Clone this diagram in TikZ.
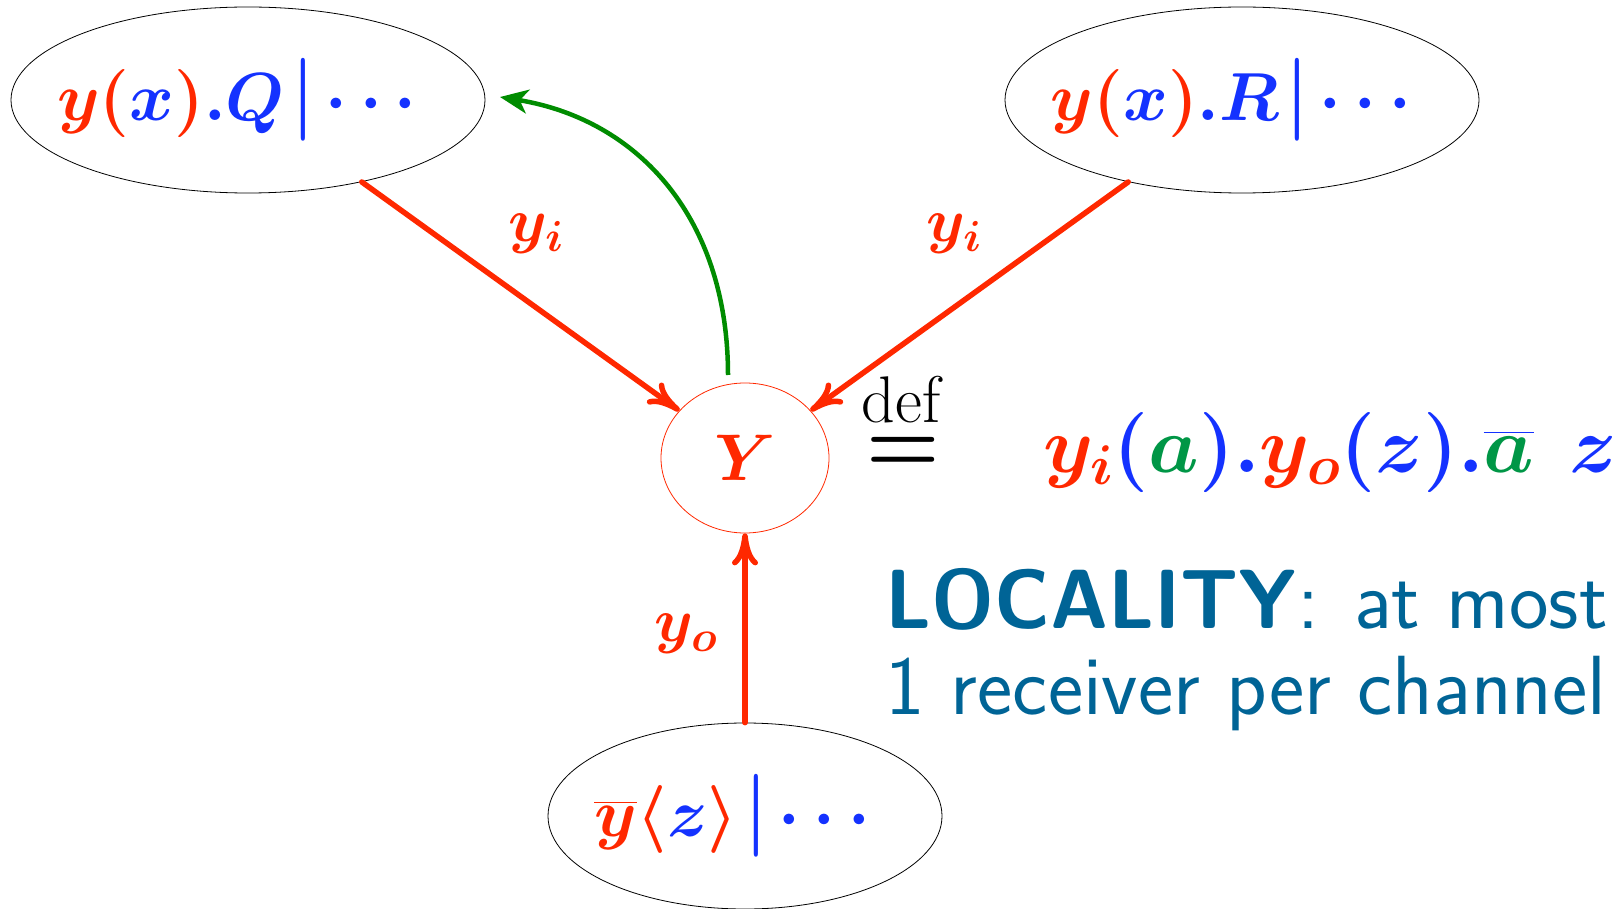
\RequirePackage{fix-cm}
\documentclass[tikz,border=0pt]{standalone}
\usepackage{amsmath,bm,graphicx}
\usepackage{fontspec}
\usetikzlibrary{shapes.geometric,arrows.meta}
\definecolor{pired}{RGB}{255,40,0}
\definecolor{piblue}{RGB}{20,50,255}
\definecolor{pigreen}{RGB}{0,140,0}
\definecolor{fgreen}{RGB}{0,150,70}
\definecolor{teal}{RGB}{0,100,150}
\newcommand{\R}[1]{{\color{pired}#1}}
\newcommand{\B}[1]{{\color{piblue}#1}}
\newcommand{\G}[1]{{\color{fgreen}#1}}
% tall bold parallel-composition bar
\newcommand{\parbar}{\mkern2mu\raisebox{-0.5pt}{\scalebox{1}[1.22]{$\bm{|}$}}\mkern3mu}
\tikzset{
  proc/.style={ellipse, draw=black, line width=0.8pt,
    inner xsep=-60pt, inner ysep=0pt,
    minimum width=474pt, minimum height=186pt,
    font=\fontsize{68}{78}\selectfont},
  repl/.style={ellipse, draw=pired, line width=0.8pt, inner sep=0pt,
    minimum width=168pt, minimum height=150pt,
    font=\fontsize{66}{76}\selectfont},
  rarrow/.style={draw=pired, line width=5.5pt, line cap=round,
    -{To[length=32pt,width=26pt,round]}},
  garrow/.style={draw=pigreen, line width=4.5pt,
    -{Stealth[length=28pt,width=24pt,inset=8pt]}},
  lbl/.style={font=\fontsize{62}{70}\selectfont, inner sep=0pt},
  loc/.style={text=teal, anchor=base west, inner sep=0pt,
    font=\sffamily\fontsize{84}{96}\selectfont}
}
\begin{document}
\begin{tikzpicture}[x=1pt,y=-1pt]
\useasboundingbox (0,0) rectangle (1623,909);

% processes around the replicated receiver
\node[proc] (q) at (248,100)
  {$\bm{\R{y(}\B{x}\R{)}\B{.Q}}\B{\parbar}\bm{\B{\cdots}}\kern22pt$};
\node[proc] (r) at (1242,100)
  {$\bm{\R{y(}\B{x}\R{)}\B{.R}}\B{\parbar}\bm{\B{\cdots}}\kern22pt$};
\node[proc, minimum width=394pt] (s) at (745,816)
  {$\bm{\R{\overline{y}\langle}\B{z}\R{\rangle}}\B{\parbar}\bm{\B{\cdots}}\kern26pt$};
\node[repl] (Y) at (745,458) {$\bm{\R{Y}}$};

% channel links
\draw[rarrow] (q) -- (Y);
\draw[rarrow] (r) -- (Y);
\draw[rarrow] (s) -- (Y);
\node[lbl] (li1) at (536,234) {$\bm{\R{y_i}}$};
\node[lbl] (li2) at (954,234) {$\bm{\R{y_i}}$};
\node[lbl] (lo) at (686,634) {$\bm{\R{y_o}}$};

% reply back to the first sender
\coordinate (gstart) at (728,375);
\coordinate (gend) at (500,97);
\draw[garrow] (gstart) .. controls (728,220) and (640,120) .. (gend);

% definition of Y
\node[inner sep=0pt, anchor=base, font=\fontsize{66}{72}\selectfont] (def) at (901,422) {def};
\node[inner sep=0pt, font=\fontsize{70}{80}\selectfont] (eq) at (903,455)
  {\scalebox{1.2}[1.3]{$\bm{=}$}};
\node[inner sep=0pt, anchor=west, font=\fontsize{80}{90}\selectfont] (body) at (1043,452)
  {$\bm{\R{y_i}\B{(}\G{a}\B{).}\R{y_o}\B{(z).}\B{\overline{\G{a}}}\;\,\B{z}}$};

% locality remark
\node[loc] (loc1) at (885,628) {\scalebox{0.945}[1]{\textbf{LOCALITY}}: at most};
\node[loc] (loc2) at (885,714) {1 receiver per channel};
\end{tikzpicture}
\end{document}
